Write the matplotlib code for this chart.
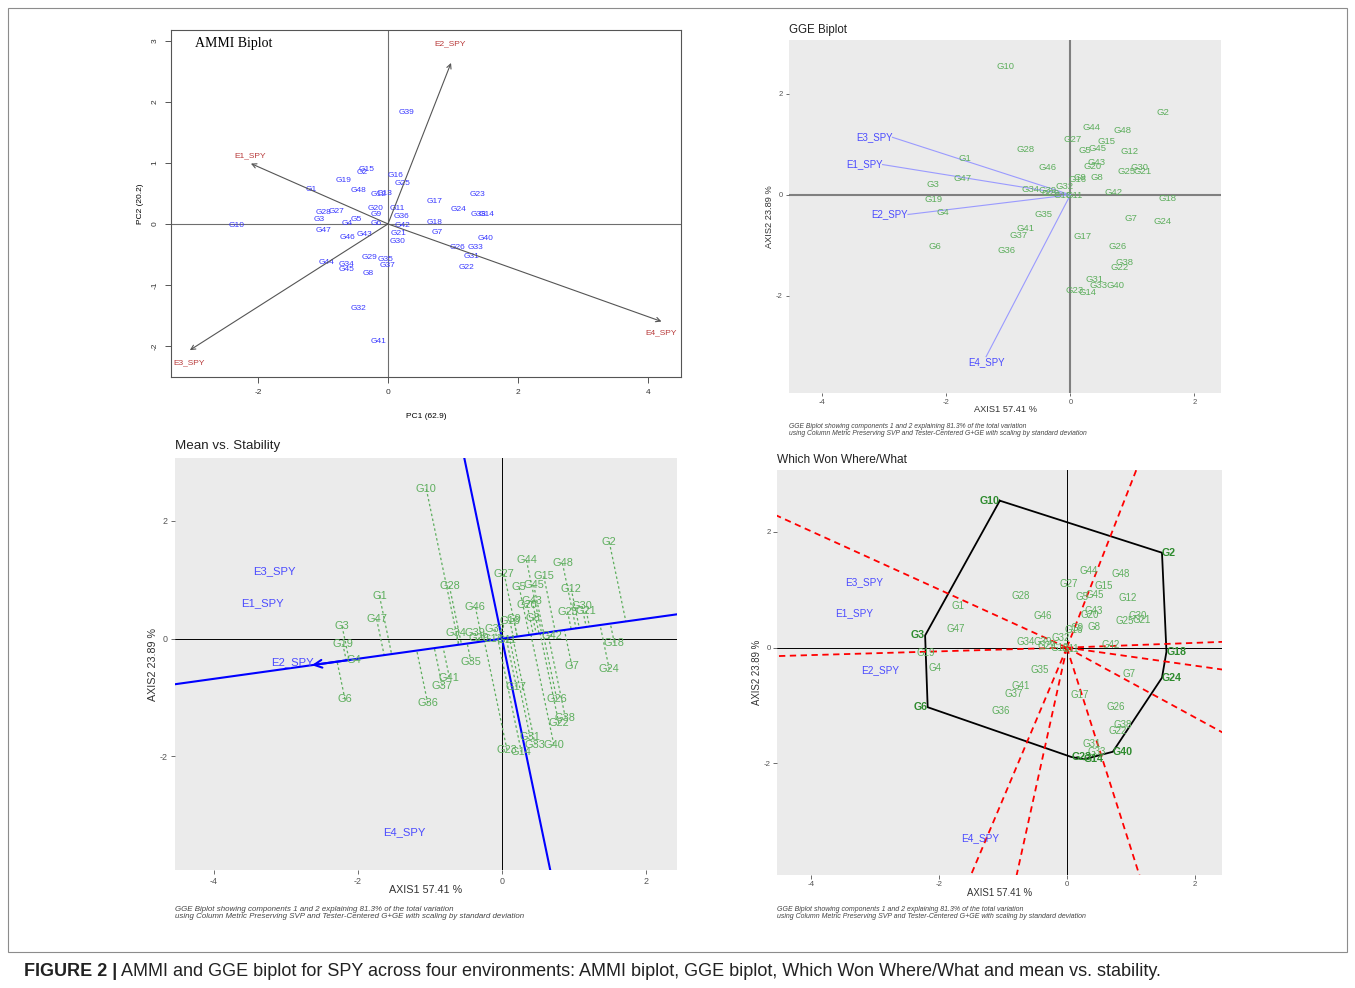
import numpy as np
import matplotlib
matplotlib.use('Agg')
import matplotlib.pyplot as plt
from matplotlib import font_manager
from matplotlib.patches import Rectangle

# fonts: Arial-like for everything, narrow variant for the AMMI labels if present
installed = {f.name for f in font_manager.fontManager.ttflist}
SANS = 'Liberation Sans'
NARROW = 'Liberation Sans Narrow' if 'Liberation Sans Narrow' in installed else SANS
plt.rcParams['font.family'] = SANS
plt.rcParams['axes.unicode_minus'] = False

genotypes = ['G%d' % i for i in range(1, 49)]

# AMMI scores (PC1, PC2) for the 48 genotypes
ammi_pc1 = [-1.18, -0.40, -1.06, -0.63, -0.49, -0.18, 0.75, -0.31, -0.18, -2.33,
            0.14, -0.15, -0.05, 1.52, -0.33, 0.12, 0.72, 0.72, -0.69, -0.19,
            0.16, 1.21, 1.38, 1.09, 0.22, 1.07, -0.80, -1.00, -0.29, 0.15,
            1.28, -0.45, 1.35, -0.64, -0.04, 0.21, -0.01, 1.40, 0.28, 1.50,
            -0.14, 0.22, -0.36, -0.95, -0.64, -0.62, -1.00, -0.45]
ammi_pc2 = [0.57, 0.84, 0.08, 0.01, 0.08, 0.01, -0.14, -0.82, 0.16, -0.03,
            0.25, 0.49, 0.50, 0.16, 0.89, 0.80, 0.37, 0.02, 0.72, 0.26,
            -0.15, -0.72, 0.49, 0.23, 0.66, -0.38, 0.21, 0.18, -0.55, -0.29,
            -0.54, -1.38, -0.39, -0.67, -0.59, 0.12, -0.68, 0.16, 1.83, -0.24,
            -1.92, -0.03, -0.17, -0.64, -0.74, -0.22, -0.11, 0.55]

environments = ['E1_SPY', 'E2_SPY', 'E3_SPY', 'E4_SPY']
ammi_env_pc1 = [-2.11, 0.97, -3.05, 4.21]
ammi_env_pc2 = [0.99, 2.64, -2.07, -1.60]
ammi_lab_pc1 = [-2.12, 0.96, -3.06, 4.20]
ammi_lab_pc2 = [1.11, 2.95, -2.28, -1.79]

# GGE scores (AXIS1, AXIS2)
gge_ax1 = [-1.70, 1.49, -2.22, -2.06, 0.24, -2.18, 0.97, 0.43, 0.16, -1.05,
           0.06, 0.96, -0.12, 0.27, 0.58, 0.11, 0.20, 1.56, -2.21, 0.35,
           1.17, 0.79, 0.07, 1.49, 0.91, 0.76, 0.03, -0.73, -0.32, 1.11,
           0.39, -0.10, 0.46, -0.64, -0.43, -1.03, -0.83, 0.88, -0.37, 0.72,
           -0.73, 0.69, 0.42, 0.34, 0.44, -0.37, -1.74, 0.84]
gge_ax2 = [0.72, 1.64, 0.21, -0.36, 0.87, -1.03, -0.46, 0.35, 0.34, 2.54,
           -0.02, 0.85, -0.01, -1.93, 1.06, 0.30, -0.82, -0.07, -0.09, 0.57,
           0.47, -1.44, -1.89, -0.52, 0.46, -1.02, 1.10, 0.89, 0.02, 0.55,
           -1.67, 0.17, -1.80, 0.10, -0.39, -1.10, -0.80, -1.34, 0.09, -1.80,
           -0.66, 0.04, 0.64, 1.33, 0.91, 0.54, 0.33, 1.28]
gge_env_ax1 = [-3.03, -2.62, -2.87, -1.36]
gge_env_ax2 = [0.60, -0.39, 1.14, -3.21]
gge_env_order = ['E1_SPY', 'E2_SPY', 'E3_SPY', 'E4_SPY']

# average environment coordinate for the mean vs. stability view
atc = [-2.64, -0.45]

# polygon vertices for which-won-where
hull = ['G10', 'G2', 'G18', 'G24', 'G40', 'G14', 'G23', 'G6', 'G3']

W, H = 1355, 988
fig = plt.figure(figsize=(W / 100, H / 100), dpi=100)


def box(l, t, r, b):
    return [l / W, 1 - b / H, (r - l) / W, (b - t) / H]


GREEN = '#5DAE5D'
DKGREEN = '#2E8B2E'
BLUE = '#4B4BFF'
CAPTION = ('GGE Biplot showing components 1 and 2 explaining 81.3% of the total variation\n'
           'using Column Metric Preserving SVP and Tester-Centered G+GE with scaling by standard deviation')

# ---------------- AMMI biplot ----------------
ax1 = fig.add_axes(box(171, 30, 681, 377))
ax1.axhline(0, color='#6E6E6E', lw=0.8)
ax1.axvline(0, color='#6E6E6E', lw=0.8)
for g, x, y in zip(genotypes, ammi_pc1, ammi_pc2):
    ax1.text(x, y, g, color='#3A3AFF', fontsize=6, family=NARROW, ha='center', va='center')
for e, x, y, lx, ly in zip(environments, ammi_env_pc1, ammi_env_pc2, ammi_lab_pc1, ammi_lab_pc2):
    ax1.annotate('', xy=(x, y), xytext=(0, 0),
                 arrowprops=dict(arrowstyle='->', color='#555555', lw=0.8,
                                 shrinkA=0, shrinkB=0, mutation_scale=8))
    ax1.text(lx, ly, e, color='#B83A3A', fontsize=6, family=NARROW, ha='center', va='center')
ax1.set_xlim(-3.34, 4.51)
ax1.set_ylim(-2.51, 3.18)
ax1.set_xticks([-2, 0, 2, 4])
ax1.set_yticks([-2, -1, 0, 1, 2, 3])
ax1.tick_params(length=4, width=0.7, color='#555555', labelsize=6, labelcolor='#333333', pad=5)
for lab in ax1.get_yticklabels():
    lab.set_rotation(90)
    lab.set_va('center')
for sp in ax1.spines.values():
    sp.set_color('#555555')
    sp.set_linewidth(0.8)
ax1.text(0.047, 0.9625, 'AMMI Biplot', transform=ax1.transAxes, family='Liberation Serif',
         fontsize=10, ha='left', va='center')
ax1.annotate('PC1 (62.9)', (0.5, 0), xycoords='axes fraction', xytext=(0, -39),
             textcoords='offset pixels', ha='center', va='center', fontsize=6, family=NARROW)
ax1.annotate('PC2 (20.2)', (0, 0.5), xycoords='axes fraction', xytext=(-31, 0),
             textcoords='offset pixels', ha='center', va='center', fontsize=6, family=NARROW,
             rotation=90)


# ---------------- shared GGE panel frame ----------------
def gge_frame(ax, s, title, zero_color, zero_lw):
    ax.set_facecolor('#EBEBEB')
    for sp in ax.spines.values():
        sp.set_visible(False)
    ax.axhline(0, color=zero_color, lw=zero_lw, zorder=1)
    ax.axvline(0, color=zero_color, lw=zero_lw, zorder=1)
    ax.set_xlim(-4.54, 2.43)
    ax.set_ylim(-3.93, 3.07)
    ax.set_xticks([-4, -2, 0, 2])
    ax.set_yticks([-2, 0, 2])
    ax.tick_params(length=2.5 * s, width=0.6, color='#555555', labelsize=5.5 * s,
                   labelcolor='#555555', pad=2 * s)
    ax.annotate(title, (0, 1), xycoords='axes fraction', xytext=(0, 10 * s),
                textcoords='offset pixels', ha='left', va='center', fontsize=8.3 * s,
                color='#222222')
    ax.annotate('AXIS1 57.41 %', (0.5, 0), xycoords='axes fraction', xytext=(0, -17 * s),
                textcoords='offset pixels', ha='center', va='center', fontsize=6.7 * s,
                color='#333333')
    ax.annotate('AXIS2 23.89 %', (0, 0.5), xycoords='axes fraction', xytext=(-19 * s, 0),
                textcoords='offset pixels', ha='center', va='center', fontsize=6.7 * s,
                color='#333333', rotation=90)
    ax.annotate(CAPTION, (0, 0), xycoords='axes fraction', xytext=(0, -37 * s),
                textcoords='offset pixels', ha='left', va='center', fontsize=4.9 * s,
                style='italic', color='#444444', linespacing=1.0)


def env_labels(ax, s):
    for e, x, y in zip(gge_env_order, gge_env_ax1, gge_env_ax2):
        if abs(x) > abs(y):
            ha, va = ('right' if x < 0 else 'left'), 'center'
        else:
            ha, va = 'center', ('top' if y < 0 else 'bottom')
        ax.text(x, y, e, color=BLUE, fontsize=7 * s, ha=ha, va=va, zorder=4)


def gen_labels(ax, s, skip=()):
    for g, x, y in zip(genotypes, gge_ax1, gge_ax2):
        if g in skip:
            continue
        ax.text(x, y, g, color=GREEN, fontsize=6.8 * s, ha='center', va='center', zorder=4)


# ---------------- GGE biplot ----------------
s2 = 1.0
ax2 = fig.add_axes(box(789, 40, 1221, 393))
gge_frame(ax2, s2, 'GGE Biplot', '#7F7F7F', 1.5)
for x, y in zip(gge_env_ax1, gge_env_ax2):
    ax2.plot([0, x], [0, y], color='#9A9AFF', lw=0.8, zorder=2)
env_labels(ax2, s2)
gen_labels(ax2, s2)

# ---------------- Mean vs. Stability ----------------
s3 = 502 / 432
ax3 = fig.add_axes(box(175, 458, 677, 870))
gge_frame(ax3, s3, 'Mean vs. Stability', 'black', 0.7)
u = np.array(atc) / np.hypot(*atc)
for x, y in zip(gge_ax1, gge_ax2):
    d = x * u[0] + y * u[1]
    ax3.plot([x, d * u[0]], [y, d * u[1]], color=GREEN, lw=0.9, ls=(0, (2, 2)), zorder=2)
ax3.plot([-20 * u[0], 20 * u[0]], [-20 * u[1], 20 * u[1]], color='#0000FF', lw=1.5, zorder=3)
ax3.plot([20 * u[1], -20 * u[1]], [-20 * u[0], 20 * u[0]], color='#0000FF', lw=1.5, zorder=3)
ax3.annotate('', xy=tuple(atc), xytext=(atc[0] * 0.8, atc[1] * 0.8),
             arrowprops=dict(arrowstyle='->', color='#0000FF', lw=1.5, shrinkA=0, shrinkB=0,
                             mutation_scale=14), zorder=3)
env_labels(ax3, s3)
gen_labels(ax3, s3)
ax3.set_xlim(-4.54, 2.43)
ax3.set_ylim(-3.93, 3.07)

# ---------------- Which Won Where/What ----------------
s4 = 445 / 432
ax4 = fig.add_axes(box(777, 470, 1222, 875))
gge_frame(ax4, s4, 'Which Won Where/What', 'black', 0.7)
idx = [genotypes.index(g) for g in hull]
P = np.array([[gge_ax1[i], gge_ax2[i]] for i in idx])
ax4.plot(np.append(P[:, 0], P[0, 0]), np.append(P[:, 1], P[0, 1]), color='black', lw=1.3, zorder=3)
for i in range(len(P)):
    p, q = P[i], P[(i + 1) % len(P)]
    e = q - p
    f = p - np.dot(p, e) / np.dot(e, e) * e
    f = f / np.linalg.norm(f) * 20
    ax4.plot([0, f[0]], [0, f[1]], color='#FF0000', lw=1.3, ls=(0, (3.5, 2.5)), zorder=3)
env_labels(ax4, s4)
gen_labels(ax4, s4, skip=hull)
for g, (x, y) in zip(hull, P):
    ax4.text(x, y, g, color=DKGREEN, fontsize=7.4 * s4, weight='bold',
             ha='right' if x < 0 else 'left', va='center', zorder=5)
ax4.set_xlim(-4.54, 2.43)
ax4.set_ylim(-3.93, 3.07)

# ---------------- frame and figure caption ----------------
fig.add_artist(Rectangle((8 / W, 1 - 952 / H), (1347 - 8) / W, (952 - 8) / H,
                         transform=fig.transFigure, fill=False, ec='#8C8C8C', lw=0.8))
t1 = fig.text(24 / W, 1 - 971 / H, 'FIGURE 2 |', fontsize=13, weight='bold', ha='left',
              va='center', color='#222222')
fig.canvas.draw()
bb = t1.get_window_extent(fig.canvas.get_renderer())
fig.text((bb.x1 + 4) / W, 1 - 971 / H,
         'AMMI and GGE biplot for SPY across four environments: AMMI biplot, GGE biplot, '
         'Which Won Where/What and mean vs. stability.',
         fontsize=13, ha='left', va='center', color='#222222')

fig.savefig('out.png', dpi=100)
